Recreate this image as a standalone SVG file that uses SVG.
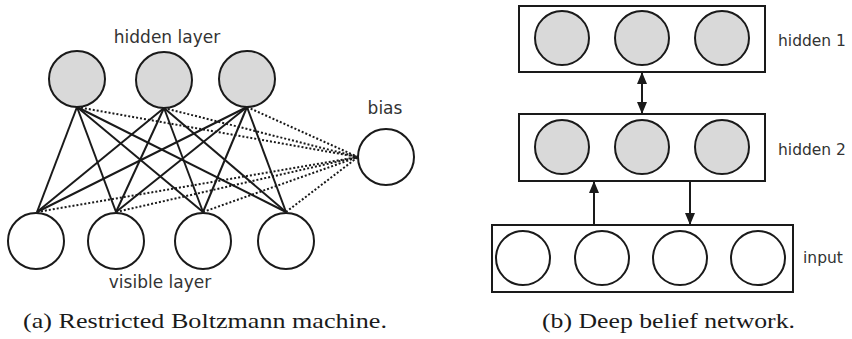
<svg xmlns="http://www.w3.org/2000/svg" width="852" height="339" viewBox="0 0 852 339">
<defs>
<style>
.bg{fill:#ffffff}
.hid{fill:#d9d9d9;stroke:#1a1a1a;stroke-width:2}
.vis{fill:#ffffff;stroke:#1a1a1a;stroke-width:2}
.box{fill:#ffffff;stroke:#1a1a1a;stroke-width:2}
.edge{stroke:#1a1a1a;stroke-width:2;fill:none}
.dot{stroke:#1a1a1a;stroke-width:2;stroke-dasharray:2 2;fill:none}
.arr{stroke:#1a1a1a;stroke-width:2;fill:none}
.lbl{font-family:"DejaVu Sans",sans-serif;fill:#333333}
.cap{font-family:"Liberation Serif",serif;font-size:21px;fill:#1a1a1a}
</style>
<marker id="ah" viewBox="0 0 12 10" refX="12" refY="5" markerWidth="12" markerHeight="10" markerUnits="userSpaceOnUse" orient="auto-start-reverse">
<path d="M0,0 L12,5 L0,10 Z" fill="#1a1a1a"/>
</marker>
</defs>
<rect class="bg" x="0" y="0" width="852" height="339"/>

<g id="connectors">
<g id="rbm-edges">
<line class="edge" x1="77" y1="107" x2="37" y2="212"/>
<line class="edge" x1="77" y1="107" x2="116" y2="212"/>
<line class="edge" x1="77" y1="107" x2="203" y2="212"/>
<line class="edge" x1="77" y1="107" x2="286" y2="212"/>
<line class="edge" x1="164" y1="108" x2="37" y2="212"/>
<line class="edge" x1="164" y1="108" x2="116" y2="212"/>
<line class="edge" x1="164" y1="108" x2="203" y2="212"/>
<line class="edge" x1="164" y1="108" x2="286" y2="212"/>
<line class="edge" x1="247" y1="107" x2="37" y2="212"/>
<line class="edge" x1="247" y1="107" x2="116" y2="212"/>
<line class="edge" x1="247" y1="107" x2="203" y2="212"/>
<line class="edge" x1="247" y1="107" x2="286" y2="212"/>
</g>
<g id="bias-edges">
<line class="dot" x1="77" y1="107" x2="358" y2="157"/>
<line class="dot" x1="164" y1="108" x2="358" y2="157"/>
<line class="dot" x1="247" y1="107" x2="358" y2="157"/>
<line class="dot" x1="37" y1="212" x2="358" y2="157"/>
<line class="dot" x1="116" y1="212" x2="358" y2="157"/>
<line class="dot" x1="203" y1="212" x2="358" y2="157"/>
<line class="dot" x1="286" y1="212" x2="358" y2="157"/>
</g>
<g id="dbn-arrows">
<line class="arr" x1="642" y1="72" x2="642" y2="114" marker-start="url(#ah)" marker-end="url(#ah)"/>
<line class="arr" x1="594" y1="225" x2="594" y2="181" marker-end="url(#ah)"/>
<line class="arr" x1="690" y1="181" x2="690" y2="225" marker-end="url(#ah)"/>
</g>
</g>

<g id="rbm-hidden">
<circle id="h1" class="hid" cx="77" cy="79" r="28"/>
<circle id="h2" class="hid" cx="164" cy="80" r="28"/>
<circle id="h3" class="hid" cx="247" cy="79" r="28"/>
<text class="lbl" x="167" y="43" font-size="17" text-anchor="middle">hidden layer</text>
</g>
<g id="rbm-visible">
<circle id="v1" class="vis" cx="36" cy="241" r="28"/>
<circle id="v2" class="vis" cx="116" cy="241" r="28"/>
<circle id="v3" class="vis" cx="203" cy="241" r="28"/>
<circle id="v4" class="vis" cx="286" cy="241" r="28"/>
<text class="lbl" x="160" y="288" font-size="17" text-anchor="middle">visible layer</text>
</g>
<g id="rbm-bias">
<circle class="vis" cx="386" cy="157" r="28"/>
<text class="lbl" x="385" y="114" font-size="17" text-anchor="middle">bias</text>
</g>

<g id="dbn-hidden1">
<rect class="box" x="519" y="6" width="246" height="66"/>
<circle class="hid" cx="562" cy="38" r="27"/>
<circle class="hid" cx="642" cy="38" r="27"/>
<circle class="hid" cx="722" cy="38" r="27"/>
<text class="lbl" x="778" y="46" font-size="15.5">hidden 1</text>
</g>
<g id="dbn-hidden2">
<rect class="box" x="519" y="114" width="246" height="67"/>
<circle class="hid" cx="562" cy="147" r="27"/>
<circle class="hid" cx="642" cy="147" r="27"/>
<circle class="hid" cx="722" cy="147" r="27"/>
<text class="lbl" x="778" y="155" font-size="15.5">hidden 2</text>
</g>
<g id="dbn-input">
<rect class="box" x="492" y="225" width="301" height="67"/>
<circle class="vis" cx="523" cy="258" r="27"/>
<circle class="vis" cx="602" cy="258" r="27"/>
<circle class="vis" cx="680" cy="258" r="27"/>
<circle class="vis" cx="758" cy="258" r="27"/>
<text class="lbl" x="803" y="263" font-size="15.5">input</text>
</g>

<text class="cap" x="23" y="328" textLength="364" lengthAdjust="spacingAndGlyphs">(a) Restricted Boltzmann machine.</text>
<text class="cap" x="542" y="328" textLength="253" lengthAdjust="spacingAndGlyphs">(b) Deep belief network.</text>
</svg>
